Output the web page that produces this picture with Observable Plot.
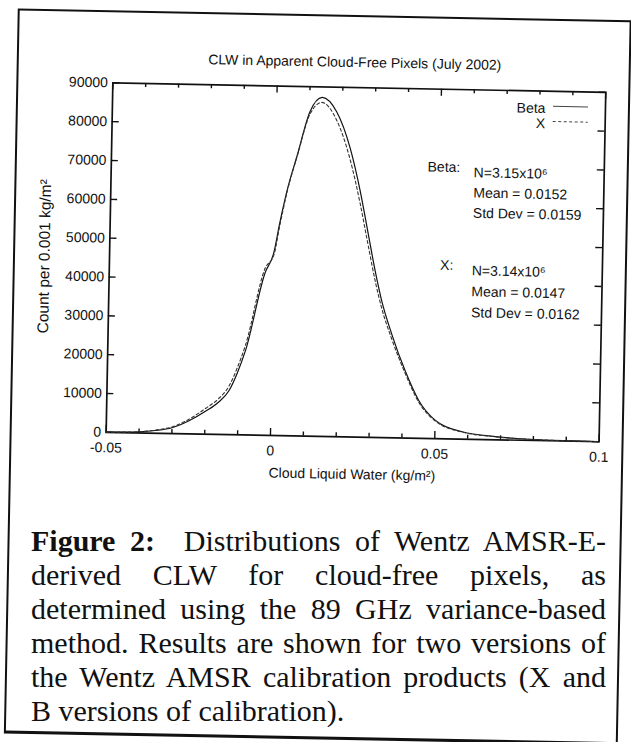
<!DOCTYPE html>
<html>
<head>
<meta charset="utf-8">
<script src="https://cdn.jsdelivr.net/npm/d3@7"></script>
<script src="https://cdn.jsdelivr.net/npm/@observablehq/plot@0.6"></script>
<style>
html,body{margin:0;padding:0;background:#fff;}
body{width:631px;height:742px;overflow:hidden;position:relative;}
#page{position:absolute;left:0;top:0;width:631px;height:742px;transform:rotate(1.1deg);transform-origin:353px 260px;}
#border{position:absolute;left:13px;top:15px;width:610px;height:720px;border:2px solid #111;border-bottom-width:3px;}
#chart{position:absolute;left:0;top:0;}
#caption{position:absolute;left:31px;top:524px;width:575px;font-family:"Liberation Serif","Times New Roman",serif;font-size:30px;line-height:34px;color:#111;}
#caption .j{text-align:justify;text-align-last:justify;}
#caption .last{text-align:left;}
</style>
</head>
<body>
<div id="page">
  <div id="border"></div>
  <div id="chart"></div>
</div>
<div id="caption"></div>
<script>
// ---- data ----
const chartTitle = "CLW in Apparent Cloud-Free Pixels (July 2002)";
const xAxisLabel = "Cloud Liquid Water (kg/m²)";
const yAxisLabel = "Count per 0.001 kg/m²";
const seriesNames = ["Beta", "X"];

const clwBeta = [-0.05, -0.045, -0.04, -0.035, -0.03, -0.025, -0.0198, -0.016, -0.0129, -0.0105, -0.0081, -0.0026, 0.0, 0.0016, 0.0037, 0.0065, 0.0101, 0.0138, 0.0183, 0.0226, 0.0259, 0.0284, 0.0311, 0.0330, 0.0363, 0.0406, 0.0449, 0.0501, 0.0583, 0.0686, 0.0787, 0.089, 0.1];
const countBeta = [30, 100, 250, 700, 1500, 3300, 5950, 8300, 11300, 15800, 21700, 41800, 47200, 54800, 63400, 72200, 83500, 87300, 83600, 74300, 63300, 53100, 42100, 35400, 26700, 17300, 9750, 4700, 1900, 800, 300, 100, 40];

const clwX = [-0.05, -0.045, -0.04, -0.035, -0.03, -0.025, -0.0198, -0.016, -0.0129, -0.0105, -0.0081, -0.0026, 0.0, 0.0016, 0.0037, 0.0065, 0.0101, 0.0137, 0.0183, 0.0226, 0.0259, 0.0284, 0.0311, 0.0330, 0.0363, 0.0406, 0.0449, 0.0501, 0.0583, 0.0686, 0.0787, 0.089, 0.1];
const countX = [40, 120, 300, 800, 1700, 3700, 6700, 9200, 12500, 17200, 23200, 43000, 46500, 54000, 63000, 72000, 82800, 86000, 81500, 71500, 60300, 50300, 39800, 33600, 25500, 16700, 9300, 4500, 1800, 750, 280, 100, 40];

const xMajorTicks = [-0.05, 0, 0.05, 0.1];
const xMinorTicks = [-0.04, -0.03, -0.02, -0.01, 0.01, 0.02, 0.03, 0.04, 0.06, 0.07, 0.08, 0.09];
const yTicks = [0, 10000, 20000, 30000, 40000, 50000, 60000, 70000, 80000, 90000];

const statsBeta = ["N=3.15x10⁶", "Mean = 0.0152", "Std Dev = 0.0159"];
const statsX = ["N=3.14x10⁶", "Mean = 0.0147", "Std Dev = 0.0162"];

const captionLines = [
  "<b>Figure 2:</b>&nbsp; Distributions of Wentz AMSR-E-",
  "derived CLW for cloud-free pixels, as",
  "determined using the 89 GHz variance-based",
  "method. Results are shown for two versions of",
  "the Wentz AMSR calibration products (X and",
  "B versions of calibration)."
];

// ---- build ----
const rowsBeta = clwBeta.map((x, i) => ({x, y: countBeta[i]}));
const rowsX = clwX.map((x, i) => ({x, y: countX[i]}));
const font = "'Liberation Sans', Arial, Helvetica, sans-serif";
const ink = "#111";

const W = 631, H = 490, ML = 109, MR = 29, MT = 87, MB = 53.5;
const frameW = W - ML - MR, frameH = H - MT - MB;
const major = 7, minor = 4;

const legendSamples = (index, scales, values, dims) => {
  const g = d3.create("svg:g");
  const right = dims.width - dims.marginRight;
  seriesNames.forEach((n, i) => {
    g.append("line")
      .attr("x1", right - 52).attr("x2", right - 17)
      .attr("y1", dims.marginTop + 15.5 + i * 15.2)
      .attr("y2", dims.marginTop + 15.5 + i * 15.2)
      .attr("stroke", "#444").attr("stroke-width", 1)
      .attr("stroke-dasharray", i === 0 ? null : "3,2.5");
  });
  return g.node();
};

const tk = {stroke: ink, strokeWidth: 1.4};

const chart = Plot.plot({
  width: W,
  height: H,
  marginLeft: ML,
  marginRight: MR,
  marginTop: MT,
  marginBottom: MB,
  style: {fontFamily: font, fontSize: "14px", background: "transparent", color: ink, overflow: "visible"},
  x: {domain: [-0.05, 0.1], label: null},
  y: {domain: [0, 90000], label: null},
  marks: [
    // tick labels and axis labels
    Plot.axisX(xMajorTicks, {anchor: "bottom", tickSize: 0, tickPadding: 10, tickFormat: d => String(d), fontSize: 14,
      label: xAxisLabel, labelAnchor: "center", labelOffset: 42, labelArrow: "none"}),
    Plot.axisY(yTicks, {anchor: "left", tickSize: 0, tickPadding: 5, tickFormat: d => String(d), fontSize: 14, label: null}),
    Plot.axisY([], {anchor: "left", tickSize: 0, fontSize: 15.5,
      label: yAxisLabel, labelAnchor: "center", labelOffset: 71, labelArrow: "none"}),
    // inward ticks on all four sides
    Plot.ruleX(xMajorTicks, {x: d => d, insetTop: frameH - major, ...tk}),
    Plot.ruleX(xMinorTicks, {x: d => d, insetTop: frameH - minor, ...tk}),
    Plot.ruleX(xMajorTicks, {x: d => d, insetBottom: frameH - major, ...tk}),
    Plot.ruleX(xMinorTicks, {x: d => d, insetBottom: frameH - minor, ...tk}),
    Plot.ruleY(yTicks, {y: d => d, insetRight: frameW - major, ...tk}),
    Plot.ruleY(yTicks, {y: d => d, insetLeft: frameW - major, ...tk}),
    Plot.frame({stroke: ink, strokeWidth: 1.7}),
    // curves
    Plot.line(rowsBeta, {x: "x", y: "y", stroke: ink, strokeWidth: 1.2, curve: "monotone-x"}),
    Plot.line(rowsX, {x: "x", y: "y", stroke: "#333", strokeWidth: 1.1, strokeDasharray: "3,2.5", curve: "monotone-x"}),
    // title
    Plot.text([chartTitle], {text: d => d, frameAnchor: "top", dx: -5, dy: -25, lineAnchor: "middle", fontSize: 14, fill: ink}),
    // legend
    Plot.text([seriesNames.join("\n")], {text: d => d, frameAnchor: "top-right", textAnchor: "end", lineAnchor: "top",
      dx: -60, dy: 11, lineHeight: 1.09, fontSize: 14, fill: ink}),
    legendSamples,
    // statistics
    Plot.text([seriesNames[0] + ":"], {text: d => d, frameAnchor: "top-right", textAnchor: "end", lineAnchor: "middle",
      dx: -144, dy: 78, fontSize: 14, fill: ink}),
    Plot.text([statsBeta.join("\n")], {text: d => d, frameAnchor: "top-right", textAnchor: "start", lineAnchor: "top",
      dx: -130.5, dy: 73, lineHeight: 1.45, fontSize: 14, fill: ink}),
    Plot.text([seriesNames[1] + ":"], {text: d => d, frameAnchor: "top-right", textAnchor: "end", lineAnchor: "middle",
      dx: -149, dy: 176, fontSize: 14, fill: ink}),
    Plot.text([statsX.join("\n")], {text: d => d, frameAnchor: "top-right", textAnchor: "start", lineAnchor: "top",
      dx: -130.5, dy: 170.6, lineHeight: 1.5, fontSize: 14, fill: ink})
  ]
});
document.getElementById("chart").appendChild(chart);

const cap = document.getElementById("caption");
captionLines.forEach((t, i) => {
  const d = document.createElement("div");
  d.className = i === captionLines.length - 1 ? "last" : "j";
  d.innerHTML = t;
  cap.appendChild(d);
});
</script>
</body>
</html>
